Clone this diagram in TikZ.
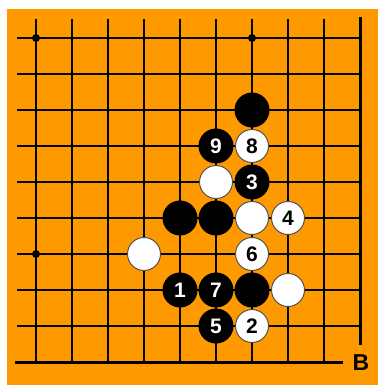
\documentclass[tikz,border=0pt]{standalone}
\usepackage{fontspec}
\setmainfont{Liberation Sans}
\definecolor{board}{HTML}{FF9900}
\definecolor{rim}{HTML}{505050}
\begin{document}
\begin{tikzpicture}[x=1pt,y=-1pt,
  gridline/.style={line width=1.8pt,black},
  edgeline/.style={line width=3pt,black},
  numfont/.style={font=\bfseries\fontsize{21}{21}\selectfont},
  bstone/.style={circle,fill=black,minimum size=35pt,inner sep=0pt,text=white,numfont},
  wstone/.style={circle,fill=white,draw=rim,line width=1pt,minimum size=33pt,inner sep=0pt,text=black,numfont},
  hoshi/.style={circle,fill=black,minimum size=8pt,inner sep=0pt}]
\useasboundingbox (0,0) rectangle (378,385);
\fill[board] (7,9) rectangle (378,385);
\foreach \x in {36,72,...,324} \draw[gridline] (\x,19) -- (\x,362);
\foreach \y in {38,74,...,326} \draw[gridline] (17,\y) -- (360,\y);
\draw[edgeline] (15,362) -- (343,362);
\draw[edgeline] (360,17) -- (360,345);
\node[hoshi] (h1) at (36,38) {};
\node[hoshi] (h2) at (252,38) {};
\node[hoshi] (h3) at (36,254) {};
\node[font=\bfseries\fontsize{23}{23}\selectfont] (lb) at (361,363) {B};
% black stones
\node[bstone] (b0) at (252,110) {};
\node[bstone] (b9) at (216,146) {9};
\node[bstone] (b3) at (252,182) {3};
\node[bstone] (ba) at (180,218) {};
\node[bstone] (bb) at (216,218) {};
\node[bstone] (b1) at (180,290) {1};
\node[bstone] (b7) at (216,290) {7};
\node[bstone] (bc) at (252,290) {};
\node[bstone] (b5) at (216,326) {5};
% white stones
\node[wstone] (w8) at (252,146) {8};
\node[wstone] (wa) at (216,182) {};
\node[wstone] (wb) at (252,218) {};
\node[wstone] (w4) at (288,218) {4};
\node[wstone] (wc) at (144,254) {};
\node[wstone] (w6) at (252,254) {6};
\node[wstone] (wd) at (288,290) {};
\node[wstone] (w2) at (252,326) {2};
\end{tikzpicture}
\end{document}
